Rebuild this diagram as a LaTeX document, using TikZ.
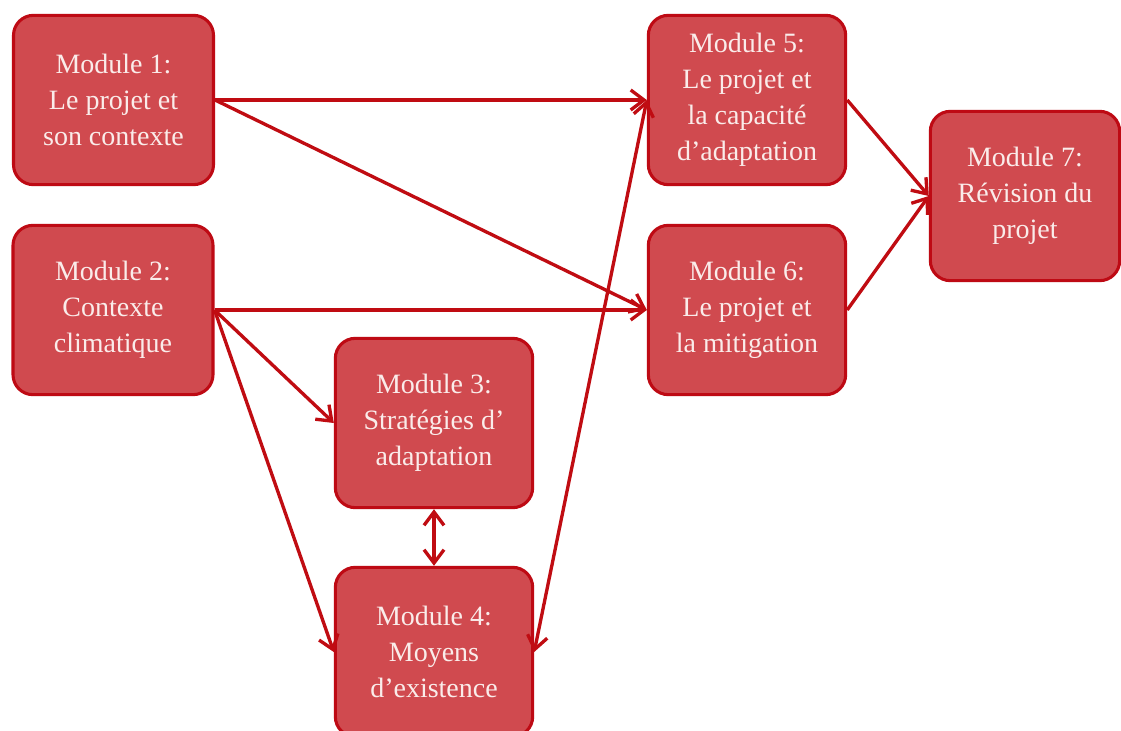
\documentclass[tikz,border=0pt]{standalone}
\usepackage{fontspec}
\setmainfont{Liberation Serif}
\usetikzlibrary{arrows.meta}
\definecolor{boxfill}{RGB}{208,74,79}
\definecolor{boxline}{RGB}{190,10,20}
\definecolor{arrowcol}{RGB}{192,12,18}
\definecolor{boxtext}{RGB}{250,236,234}
\tikzset{
  modbox/.style={draw=boxline, line width=2.3pt, fill=boxfill, rounded corners=15pt,
    minimum width=150pt, minimum height=127pt, text=boxtext, align=center,
    font=\fontsize{21}{27}\selectfont, inner sep=2pt},
  tip/.style={},
  conn/.style={draw=arrowcol, line width=2.5pt, -{Straight Barb[length=10pt,width=15pt,line width=2.5pt]}},
  dconn/.style={draw=arrowcol, line width=2.5pt, {Straight Barb[length=10pt,width=15pt,line width=2.5pt]}-{Straight Barb[length=10pt,width=15pt,line width=2.5pt]}}
}
\begin{document}
\begin{tikzpicture}[x=0.75pt,y=-0.75pt]
\useasboundingbox (0,0) rectangle (1121,731);
\fill[white] (0,0) rectangle (1121,731);
\node[modbox] (m1) at (113.5,100) {Module 1:\\Le projet et\\son contexte};
\node[modbox] (m2) at (113,310) {Module 2:\\Contexte\\climatique};
\node[modbox, minimum width=148pt] (m3) at (434,423) {Module 3:\\Stratégies d’\\adaptation};
\node[modbox, minimum width=148pt] (m4) at (434,652) {Module 4:\\Moyens\\d’existence};
\node[modbox, minimum width=148pt] (m5) at (747,100) {Module 5:\\Le projet et\\la capacité\\d’adaptation};
\node[modbox, minimum width=148pt] (m6) at (747,310) {Module 6:\\Le projet et\\la mitigation};
\node[modbox, minimum width=142pt] (m7) at (1025,196) {Module 7:\\Révision du\\projet};
\draw[conn] (m1.east) -- (m5.west);
\draw[conn] (m1.east) -- (m6.west);
\draw[conn] (m2.east) -- (m6.west);
\draw[conn] (m2.east) -- (m3.west);
\draw[conn] (m2.east) -- (m4.west);
\draw[dconn] (m4.east) -- (m5.west);
\draw[dconn] (m3.south) -- (m4.north);
\draw[conn] (m5.east) -- (m7.west);
\draw[conn] (m6.east) -- (m7.west);
\end{tikzpicture}
\end{document}
